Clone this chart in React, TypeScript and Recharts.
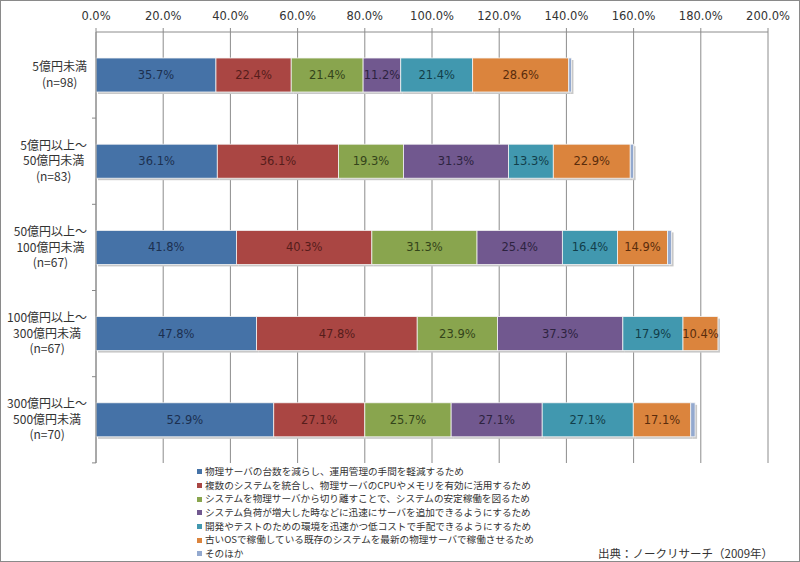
import { BarChart, Bar, XAxis, YAxis, CartesianGrid, LabelList, Legend } from "recharts";

const categories = [
  "5億円未満\n(n=98)",
  "5億円以上～\n50億円未満\n(n=83)",
  "50億円以上～\n100億円未満\n(n=67)",
  "100億円以上～\n300億円未満\n(n=67)",
  "300億円以上～\n500億円未満\n(n=70)"
];

const seriesNames = [
  "物理サーバの台数を減らし、運用管理の手間を軽減するため",
  "複数のシステムを統合し、物理サーバのCPUやメモリを有効に活用するため",
  "システムを物理サーバから切り離すことで、システムの安定稼働を図るため",
  "システム負荷が増大した時などに迅速にサーバを追加できるようにするため",
  "開発やテストのための環境を迅速かつ低コストで手配できるようにするため",
  "古いOSで稼働している既存のシステムを最新の物理サーバで稼働させるため",
  "そのほか"
];

const reduceCost = [35.7, 36.1, 41.8, 47.8, 52.9];
const consolidate = [22.4, 36.1, 40.3, 47.8, 27.1];
const stability = [21.4, 19.3, 31.3, 23.9, 25.7];
const scaleOut = [11.2, 31.3, 25.4, 37.3, 27.1];
const devTest = [21.4, 13.3, 16.4, 17.9, 27.1];
const legacyOs = [28.6, 22.9, 14.9, 10.4, 17.1];
const other = [0.8, 1.0, 1.2, 0.0, 1.3];

const xTicks = [0, 20, 40, 60, 80, 100, 120, 140, 160, 180, 200];

const seriesValues = [reduceCost, consolidate, stability, scaleOut, devTest, legacyOs, other];
const keys = ["s0", "s1", "s2", "s3", "s4", "s5", "s6"];
const colors = ["#4572A7", "#AA4643", "#89A54E", "#71588F", "#4198AF", "#DB843D", "#93A9CF"];
const labelColors = ["#1c3050", "#561d1b", "#34441a", "#2d2340", "#123e4a", "#5a2c0c", "#333"];

const data = categories.map((name, i) => {
  const row: any = { name };
  seriesValues.forEach((vals, k) => {
    row[keys[k]] = vals[i];
  });
  return row;
});

const jpFont = "'Noto Sans CJK JP', sans-serif";
const numFont = "'DejaVu Sans', Verdana, sans-serif";

const textWidth = (s: string) =>
  [...s].reduce((w, c) => w + (c.charCodeAt(0) > 255 ? 12 : 6.6), 0);

const CategoryTick = ({ x, y, payload }: any) => {
  const lines = String(payload.value).split("\n");
  const block = Math.max(...lines.map(textWidth));
  const cx = x - 1 - block / 2;
  const top = y - ((lines.length - 1) * 15.5) / 2;
  return (
    <g>
      <line x1={x + 4} x2={x + 8} y1={y + 43} y2={y + 43} stroke="#888" />
      <text textAnchor="middle" fontFamily={jpFont} fontSize={12} fill="#333">
        {lines.map((l, i) => (
          <tspan key={i} x={cx} y={top + i * 15.5} dy={4}>
            {l}
          </tspan>
        ))}
      </text>
    </g>
  );
};

const ShadowBar = (props: any) => {
  const { x, y, width, height, fill } = props;
  if (!width || width <= 0) return null;
  return (
    <g>
      <rect x={x + 2} y={y + 2} width={width} height={height} fill="#c8c8c8" />
      <rect x={x} y={y} width={width} height={height} fill={fill} stroke="#f4f4f4" strokeWidth={0.8} />
    </g>
  );
};

const LegendBox = () => (
  <div style={{ fontFamily: jpFont, fontSize: 9.6, color: "#333", lineHeight: "13.7px" }}>
    {seriesNames.map((n, i) => (
      <div key={i} style={{ display: "flex", alignItems: "center", whiteSpace: "nowrap", height: 13.7 }}>
        <span
          style={{ display: "inline-block", width: 5, height: 5, background: colors[i], marginRight: 3 }}
        />
        {n}
      </div>
    ))}
  </div>
);

export default function App() {
  return (
    <div
      style={{
        position: "absolute",
        left: 0,
        top: 0,
        width: 798,
        height: 560,
        border: "1px solid #8a8a8a",
        background: "#fff"
      }}
    >
      <BarChart
        width={798}
        height={560}
        data={data}
        layout="vertical"
        margin={{ top: 0, right: 31, bottom: 2, left: 5 }}
        barSize={34}
      >
        <CartesianGrid horizontal={false} stroke="#8c8c8c" />
        <XAxis
          type="number"
          orientation="top"
          domain={[0, 200]}
          ticks={xTicks}
          height={31}
          tickFormatter={(v: number) => `${v.toFixed(1)}%`}
          tick={{ fontFamily: numFont, fontSize: 11.5, fill: "#333" }}
          stroke="#8c8c8c"
          tickSize={4}
          tickMargin={8}
          interval={0}
        />
        <YAxis
          type="category"
          dataKey="name"
          width={90}
          stroke="#8c8c8c"
          tickLine={false}
          tick={<CategoryTick />}
          interval={0}
        />
        <Legend
          verticalAlign="bottom"
          align="left"
          content={<LegendBox />}
          wrapperStyle={{ position: "absolute", left: 196, top: 464, width: 560, height: 96 }}
        />
        {keys.map((k, i) => (
          <Bar
            key={k}
            dataKey={k}
            name={seriesNames[i]}
            stackId="a"
            fill={colors[i]}
            shape={<ShadowBar />}
            isAnimationActive={false}
          >
            {i < 6 && (
              <LabelList
                dataKey={k}
                position="center"
                formatter={(v: any) => `${Number(v).toFixed(1)}%`}
                style={{ fontFamily: numFont, fontSize: 11.5, fill: labelColors[i] }}
              />
            )}
          </Bar>
        ))}
      </BarChart>
      <div
        style={{
          position: "absolute",
          left: 597,
          top: 544,
          fontFamily: jpFont,
          fontSize: 11.5,
          color: "#333",
          whiteSpace: "nowrap"
        }}
      >
        出典：ノークリサーチ（2009年）
      </div>
    </div>
  );
}
